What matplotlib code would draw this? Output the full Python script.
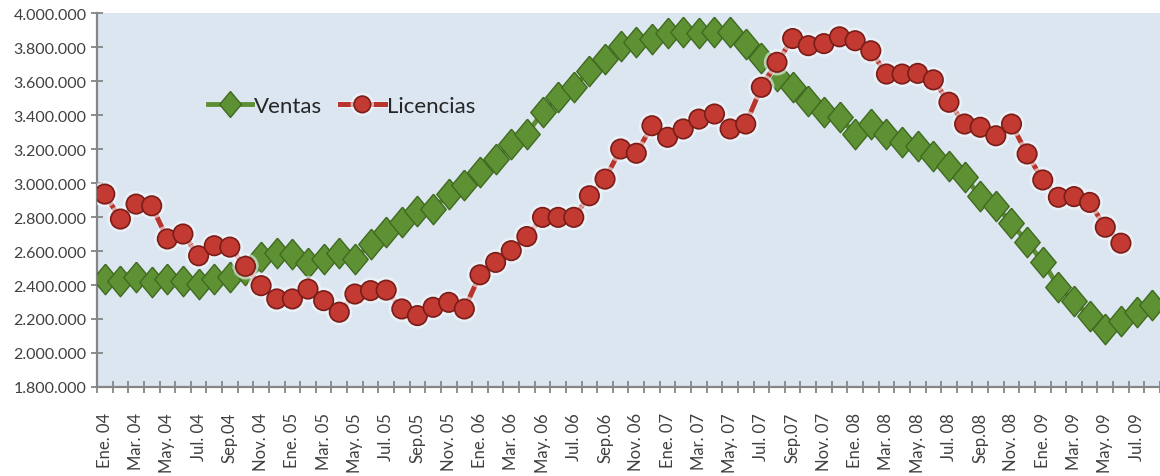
import matplotlib
matplotlib.use("Agg")
import matplotlib.pyplot as plt
import matplotlib.patheffects as pe

# =====================================================
# DATA (monthly, Ene. 04 - Ago. 09)
# =====================================================

ventas = [
    2435000, 2425000, 2445000, 2416000, 2435000, 2425000, 2406000, 2435000,
    2445000, 2490000, 2563000, 2590000, 2580000, 2530000, 2553000, 2587000,
    2553000, 2641000, 2710000, 2769000, 2837000, 2847000, 2935000, 2990000,
    3063000, 3141000, 3229000, 3288000, 3416000, 3504000, 3563000, 3661000,
    3729000, 3808000, 3827000, 3850000, 3880000, 3886000, 3880000, 3886000,
    3890000, 3818000, 3735000, 3630000, 3563000, 3480000, 3416000, 3386000,
    3288000, 3347000, 3288000, 3239000, 3220000, 3161000, 3102000, 3033000,
    2925000, 2866000, 2765000, 2651000, 2538000, 2390000, 2303000, 2215000,
    2140000, 2190000, 2240000, 2285000,
]

licencias = [
    2935000, 2788000, 2876000, 2866000, 2671000, 2700000, 2572000, 2631000,
    2623000, 2510000, 2396000, 2318000, 2318000, 2376000, 2308000, 2240000,
    2347000, 2367000, 2370000, 2259000, 2220000, 2269000, 2298000, 2259000,
    2460000, 2533000, 2602000, 2685000, 2798000, 2798000, 2798000, 2925000,
    3023000, 3200000, 3175000, 3337000, 3269000, 3318000, 3376000, 3406000,
    3318000, 3347000, 3563000, 3710000, 3850000, 3808000, 3820000, 3860000,
    3837000, 3778000, 3641000, 3641000, 3645000, 3607000, 3475000, 3347000,
    3328000, 3278000, 3347000, 3171000, 3018000, 2916000, 2920000, 2886000,
    2740000, 2646000,
]

# one label every two months
etiquetas = [
    "Ene. 04", "Mar. 04", "May. 04", "Jul. 04", "Sep.04", "Nov. 04",
    "Ene. 05", "Mar. 05", "May. 05", "Jul. 05", "Sep.05", "Nov. 05",
    "Ene. 06", "Mar. 06", "May. 06", "Jul. 06", "Sep.06", "Nov. 06",
    "Ene. 07", "Mar. 07", "May. 07", "Jul. 07", "Sep.07", "Nov. 07",
    "Ene. 08", "Mar. 08", "May. 08", "Jul. 08", "Sep.08", "Nov. 08",
    "Ene. 09", "Mar. 09", "May. 09", "Jul. 09",
]

yticks = [1800000, 2000000, 2200000, 2400000, 2600000, 2800000,
          3000000, 3200000, 3400000, 3600000, 3800000, 4000000]

# =====================================================
# PLOT
# =====================================================

plt.rcParams["font.family"] = ["Lato", "DejaVu Sans"]

fig = plt.figure(figsize=(11.6, 4.77), dpi=100)
ax = fig.add_axes([0.0836, 0.1866, 0.9164, 0.784])
ax.set_facecolor("#dce6f1")

n = len(ventas)
x_v = list(range(n))
x_l = list(range(len(licencias)))

halo = [pe.Stroke(linewidth=5, foreground="#f4f8fc", alpha=0.6), pe.Normal()]

# slightly tall diamond for the sales series
diamond = [(0, 1.2), (1, 0), (0, -1.2), (-1, 0), (0, 1.2)]

ax.plot(
    x_v, ventas,
    color="#5f8f34",
    linewidth=3.5,
    marker=diamond,
    markersize=22,
    markerfacecolor="#5e9134",
    markeredgecolor="#3f6a20",
    markeredgewidth=1.0,
    label="Ventas",
    zorder=3,
)

ax.plot(
    x_l, licencias,
    color="#b8352d",
    linewidth=3.6,
    marker="o",
    markersize=14,
    markerfacecolor="#c23a31",
    markeredgecolor="#7a1d18",
    markeredgewidth=1.2,
    label="Licencias",
    zorder=4,
    path_effects=halo,
)

# axes limits and ticks
ax.set_xlim(-0.5, n - 0.5)
ax.set_ylim(1800000, 4000000)

ax.set_yticks(yticks)
ax.set_yticklabels([f"{v:,}".replace(",", ".") for v in yticks])

ax.set_xticks(range(0, n, 2))
ax.set_xticklabels(etiquetas, rotation=90)
ax.set_xticks([i - 0.5 for i in range(n + 1)], minor=True)

ax.tick_params(axis="y", direction="inout", length=9, width=1.3,
               color="#868686", labelsize=11.5, labelcolor="#404040", pad=3)
ax.tick_params(axis="x", which="major", length=0, labelsize=12,
               labelcolor="#404040", pad=18)
ax.tick_params(axis="x", which="minor", direction="inout", length=8.5,
               width=1.3, color="#868686")

for side in ["top", "right"]:
    ax.spines[side].set_visible(False)
for side in ["left", "bottom"]:
    ax.spines[side].set_color("#868686")
    ax.spines[side].set_linewidth(1.6)

leg = ax.legend(
    loc="center left",
    bbox_to_anchor=(0.104, 0.751),
    ncol=2,
    frameon=False,
    fontsize=16,
    handlelength=2.0,
    handletextpad=0.1,
    columnspacing=0.8,
    borderpad=0,
    borderaxespad=0,
    markerscale=0.85,
)
for t in leg.get_texts():
    t.set_color("#262626")

plt.savefig("out.png", dpi=100, facecolor="white")
